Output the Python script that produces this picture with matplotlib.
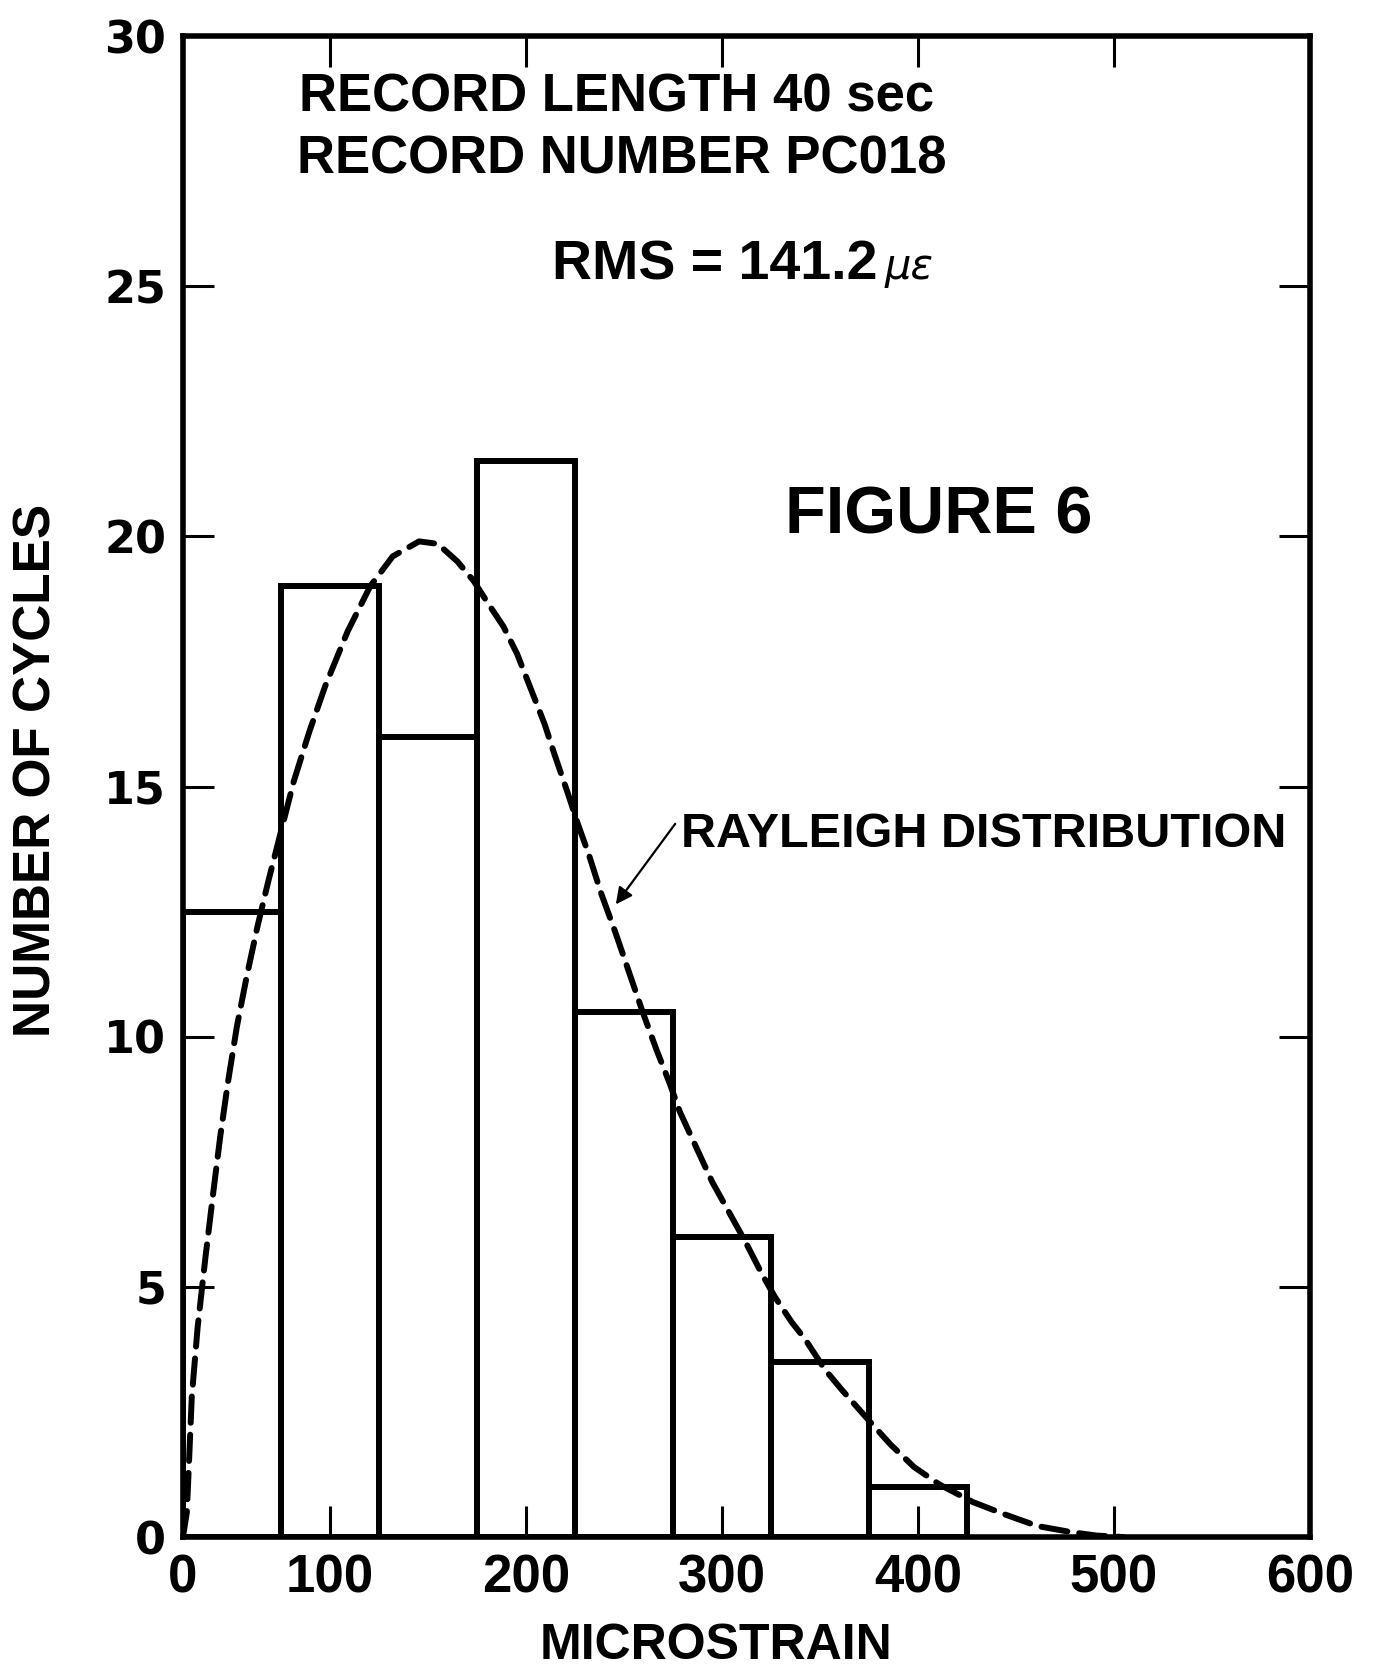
import matplotlib
matplotlib.use("Agg")
import matplotlib.pyplot as plt

# histogram (bins 50 microstrain wide)
bin_left = [25, 75, 125, 175, 225, 275, 325, 375]
bin_width = 50
cycles = [12.5, 19.0, 16.0, 21.5, 10.5, 6.0, 3.5, 1.0]

# dashed Rayleigh curve
curve_x = [25, 27, 29.5, 32.5, 36.5, 40.5, 44, 48, 52.5, 57.5, 63, 68.5, 75, 81.5,
           89.5, 97.5, 109, 120.5, 132, 145.5, 155, 165, 173.5, 180, 188.5, 195.5,
           202.5, 209.5, 214.5, 221.5, 226.5, 232, 238.5, 245.5, 252.5, 259.5, 266.5,
           273.5, 278.5, 295, 312, 320.5, 327, 335.5, 342.5, 352.5, 361, 374.5, 386,
           398, 411, 428, 444.5, 461, 478, 491, 505]
curve_y = [0, 0.5, 2.8, 4.2, 5.6, 6.9, 8.0, 9.1, 10.2, 11.2, 12.2, 13.1, 14.1, 15.1,
           16.1, 17.0, 18.1, 19.0, 19.6, 19.9, 19.85, 19.5, 19.1, 18.7, 18.2, 17.65,
           16.95, 16.25, 15.65, 14.85, 14.25, 13.65, 12.85, 12.1, 11.3, 10.5, 9.75,
           9.05, 8.5, 7.1, 5.9, 5.25, 4.8, 4.3, 3.95, 3.35, 2.95, 2.35, 1.85,
           1.4, 1.05, 0.7, 0.45, 0.22, 0.1, 0.03, 0]

x_ticks = [25, 100, 200, 300, 400, 500, 600]
x_labels = ["0", "100", "200", "300", "400", "500", "600"]
y_ticks = [0, 5, 10, 15, 20, 25, 30]

bold = "Liberation Sans"

fig = plt.figure(figsize=(13.85, 16.76), dpi=100)
ax = fig.add_axes([0.1321, 0.0829, 0.8137, 0.8956])

ax.bar(bin_left, cycles, width=bin_width, align="edge", fill=False,
       edgecolor="black", linewidth=4.3)
ax.plot(curve_x, curve_y, color="black", linewidth=4.3, dashes=(4.4, 2.0),
        dash_capstyle="round")

ax.set_xlim(25, 600)
ax.set_ylim(0, 30)
ax.set_xticks(x_ticks)
ax.set_xticklabels(x_labels, fontfamily=bold, fontweight="bold", fontsize=38)
ax.set_yticks(y_ticks)
ax.set_yticklabels([str(v) for v in y_ticks], fontfamily="DejaVu Sans",
                   fontweight="bold", fontsize=32)
ax.tick_params(direction="in", length=22, width=2.2, top=True, right=True)
ax.tick_params(axis="x", pad=12)
ax.tick_params(axis="y", pad=12)
for s in ax.spines.values():
    s.set_linewidth(4.0)

ax.text(84, 28.78, "RECORD LENGTH 40 sec", fontfamily=bold, fontweight="bold",
        fontsize=38, va="center", ha="left")
ax.text(83, 27.54, "RECORD NUMBER PC018", fontfamily=bold, fontweight="bold",
        fontsize=38, va="center", ha="left")
ax.text(213.5, 25.14, "RMS = 141.2", fontfamily=bold, fontweight="bold",
        fontsize=40, va="baseline", ha="left")
ax.text(383, 25.14, "με", fontfamily="DejaVu Sans", style="italic",
        fontsize=30, va="baseline", ha="left")
ax.text(332, 20.4, "FIGURE 6", fontfamily=bold, fontweight="bold",
        fontsize=48, va="center", ha="left")
ax.text(279, 14.05, "RAYLEIGH DISTRIBUTION", fontfamily=bold, fontweight="bold",
        fontsize=35, va="center", ha="left")
ax.annotate("", xy=(245, 12.6), xytext=(277, 14.3),
            arrowprops=dict(arrowstyle="-|>", color="black", lw=1.6,
                            mutation_scale=25))

fig.text(716 / 1385, 1 - 1646 / 1676, "MICROSTRAIN", fontfamily=bold,
         fontweight="bold", fontsize=36, ha="center", va="center")
fig.text(37 / 1385, 1 - 770 / 1676, "NUMBER OF CYCLES", fontfamily=bold,
         fontweight="bold", fontsize=37, ha="center", va="center", rotation=90)

fig.savefig("out.png", dpi=100, facecolor="white")
